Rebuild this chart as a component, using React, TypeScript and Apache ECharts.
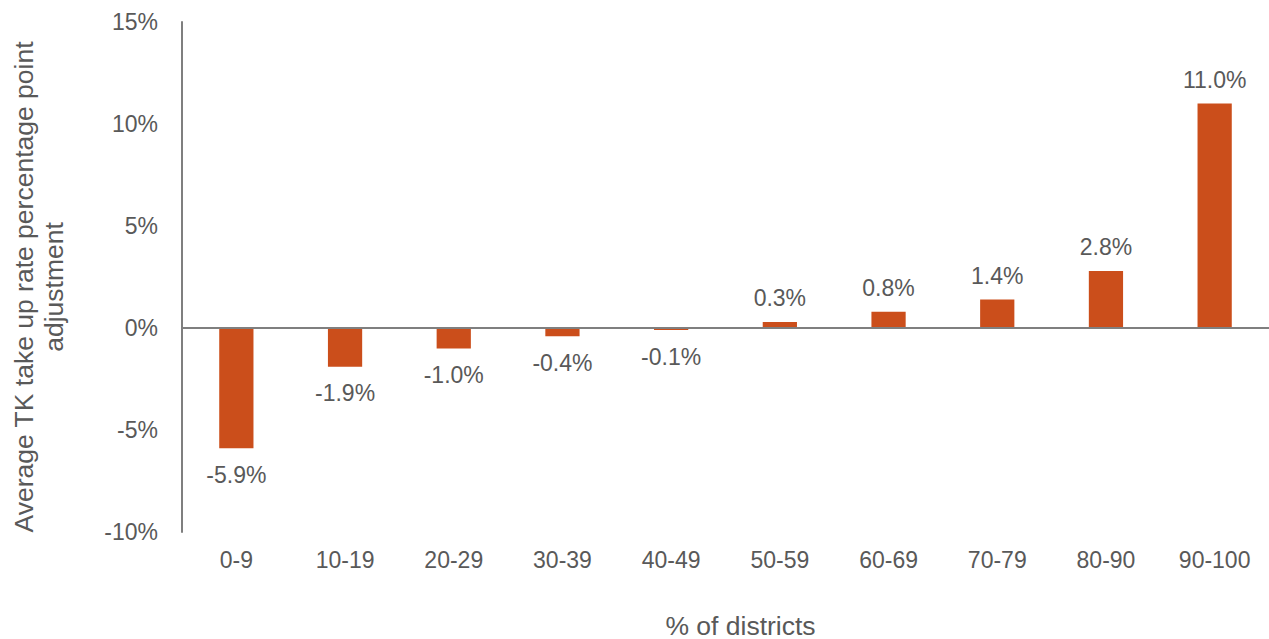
import React, { useEffect, useRef } from "react";
import * as echarts from "echarts";

const categories = ["0-9", "10-19", "20-29", "30-39", "40-49", "50-59", "60-69", "70-79", "80-90", "90-100"];
const values = [-5.9, -1.9, -1.0, -0.4, -0.1, 0.3, 0.8, 1.4, 2.8, 11.0];
const yAxisTitle = "Average TK take up rate percentage point\nadjustment";
const xAxisTitle = "% of districts";

const TEXT = "#595959";
const AXIS = "#7f7f7f";
const BAR = "#CB4E1B";
const FONT = "'Liberation Sans', Arial, sans-serif";

export default function App() {
  const ref = useRef<HTMLDivElement>(null);
  useEffect(() => {
    if (!ref.current) return;
    const chart = echarts.init(ref.current, undefined, { renderer: "svg" });
    chart.setOption({
      animation: false,
      textStyle: { fontFamily: FONT },
      grid: { left: 182, right: 0, top: 22, bottom: 107, outerBoundsMode: "none", containLabel: false },
      xAxis: {
        type: "category",
        data: categories,
        position: "bottom",
        axisLine: { show: false, onZero: false },
        axisTick: { show: false },
        axisLabel: { color: TEXT, fontSize: 23, margin: 16, fontFamily: FONT },
        name: xAxisTitle,
        nameLocation: "middle",
        nameGap: 80,
        nameTextStyle: { color: TEXT, fontSize: 26.5, fontFamily: FONT, padding: [0, 0, 0, 30] },
      },
      yAxis: {
        type: "value",
        min: -10,
        max: 15,
        interval: 5,
        splitLine: { show: false },
        axisLine: { show: true, lineStyle: { color: AXIS, width: 2 } },
        axisTick: { show: false },
        axisLabel: {
          color: TEXT,
          fontSize: 23,
          margin: 24,
          fontFamily: FONT,
          formatter: (v: number) => `${v}%`,
        },
        name: yAxisTitle,
        nameLocation: "middle",
        nameGap: 113,
        nameRotate: 90,
        nameTextStyle: {
          color: TEXT,
          fontSize: 26.5,
          fontFamily: FONT,
          lineHeight: 30,
          align: "center",
          padding: [0, 20, 0, 0],
        },
      },
      series: [
        {
          type: "bar",
          barWidth: "31.5%",
          itemStyle: { color: BAR },
          data: values.map((v) => ({
            value: v,
            label: {
              show: true,
              position: v < 0 ? "bottom" : "top",
              distance: v < 0 ? 15 : 12,
              color: TEXT,
              fontSize: 23,
              fontFamily: FONT,
              formatter: () => `${v.toFixed(1)}%`,
            },
          })),
          markLine: {
            silent: true,
            symbol: "none",
            label: { show: false },
            lineStyle: { color: AXIS, width: 2, type: "solid" },
            data: [{ yAxis: 0 }],
          },
        },
      ],
    });
    return () => chart.dispose();
  }, []);
  return (
    <div
      ref={ref}
      style={{ position: "absolute", left: 0, top: 0, width: 1269, height: 639, background: "#fff" }}
    />
  );
}
